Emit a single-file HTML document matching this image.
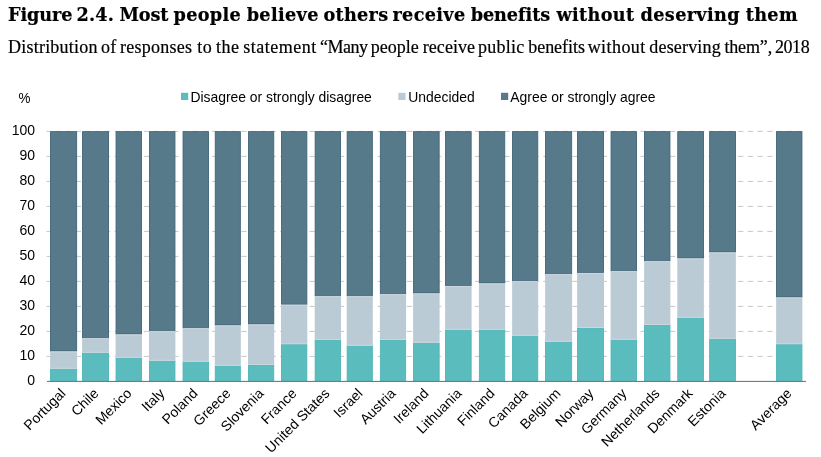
<!DOCTYPE html>
<html lang="en">
<head>
<meta charset="utf-8">
<title>Figure 2.4. Most people believe others receive benefits without deserving them</title>
<style>
html,body{margin:0;padding:0;background:#fff;}
body{width:821px;height:457px;overflow:hidden;position:relative;font-family:"Liberation Sans",Arial,sans-serif;color:#111;}
h1{position:absolute;left:0;top:2px;width:821px;height:26px;margin:0;font-family:"DejaVu Serif","Liberation Serif",serif;font-weight:700;font-size:17.65px;line-height:26px;white-space:nowrap;color:#000;-webkit-text-stroke:0.2px #000;}
p.sub{position:absolute;left:0;top:34.8px;width:821px;height:24px;margin:0;font-family:"Liberation Serif","DejaVu Serif",serif;font-weight:400;font-size:18px;line-height:24px;white-space:nowrap;color:#000;-webkit-text-stroke:0.2px #000;}
h1 span,p.sub span{position:absolute;top:0;white-space:pre;}
svg{position:absolute;left:0;top:0;}
svg text{font-family:"Liberation Sans",Arial,sans-serif;font-size:14px;fill:#000;}
svg .legend text{font-size:13.9px;}
</style>
</head>
<body>
<h1><span style="left:8.06px;letter-spacing:-0.119px">Figure</span> <span style="left:76.59px;letter-spacing:0.190px">2.4.</span> <span style="left:119.39px;letter-spacing:-0.075px">Most</span> <span style="left:173.50px;letter-spacing:0.350px">people</span> <span style="left:246.65px;letter-spacing:0.350px">believe</span> <span style="left:323.45px;letter-spacing:0.290px">others</span> <span style="left:392.45px;letter-spacing:0.350px">receive</span> <span style="left:470.63px;letter-spacing:-0.052px">benefits</span> <span style="left:556.46px;letter-spacing:0.350px">without</span> <span style="left:640.60px;letter-spacing:0.350px">deserving</span> <span style="left:745.70px;letter-spacing:0.350px">them</span></h1>
<p class="sub"><span style="left:8.10px;letter-spacing:0.212px">Distribution</span> <span style="left:101.09px;letter-spacing:0.153px">of</span> <span style="left:119.89px;letter-spacing:0.269px">responses</span> <span style="left:197.34px;letter-spacing:0.500px">to</span> <span style="left:216.10px;letter-spacing:0.500px">the</span> <span style="left:243.18px;letter-spacing:0.500px">statement</span> <span style="left:320.10px;letter-spacing:-0.500px">“Many</span> <span style="left:370.83px">people</span> <span style="left:422.77px;letter-spacing:0.057px">receive</span> <span style="left:478.06px;letter-spacing:0.217px">public</span> <span style="left:528.24px;letter-spacing:-0.043px">benefits</span> <span style="left:587.67px;letter-spacing:0.434px">without</span> <span style="left:649.33px;letter-spacing:0.177px">deserving</span> <span style="left:724.41px;letter-spacing:-0.144px">them”,</span> <span style="left:774.99px;letter-spacing:-0.432px">2018</span></p>
<svg width="821" height="457" viewBox="0 0 821 457">

<g class="legend" style="font-size:13.9px">
<rect x="181" y="92.8" width="7.2" height="7.2" fill="#5bbcbe"/><text x="190.4" y="101.5">Disagree or strongly disagree</text>
<rect x="398.3" y="92.8" width="7.2" height="7.2" fill="#bbcbd5"/><text x="408.3" y="101.5">Undecided</text>
<rect x="501" y="92.8" width="7.2" height="7.2" fill="#577a8a"/><text x="510.3" y="101.5">Agree or strongly agree</text>
</g>
<text transform="translate(18.4 103.0) scale(0.96 1.07)">%</text>
<g stroke="#b4b4b4" stroke-width="0.75" stroke-dasharray="5.3 4.44" fill="none">
<line x1="46.5" y1="356.40" x2="806" y2="356.40"/>
<line x1="46.5" y1="331.40" x2="806" y2="331.40"/>
<line x1="46.5" y1="306.40" x2="806" y2="306.40"/>
<line x1="46.5" y1="281.40" x2="806" y2="281.40"/>
<line x1="46.5" y1="256.40" x2="806" y2="256.40"/>
<line x1="46.5" y1="231.40" x2="806" y2="231.40"/>
<line x1="46.5" y1="206.40" x2="806" y2="206.40"/>
<line x1="46.5" y1="181.40" x2="806" y2="181.40"/>
<line x1="46.5" y1="156.40" x2="806" y2="156.40"/>
<line x1="46.5" y1="131.40" x2="806" y2="131.40"/>
</g>
<g text-anchor="end">
<text transform="translate(35 385.40) scale(1 1.06)">0</text>
<text transform="translate(35 360.40) scale(1 1.06)">10</text>
<text transform="translate(35 335.40) scale(1 1.06)">20</text>
<text transform="translate(35 310.40) scale(1 1.06)">30</text>
<text transform="translate(35 285.40) scale(1 1.06)">40</text>
<text transform="translate(35 260.40) scale(1 1.06)">50</text>
<text transform="translate(35 235.40) scale(1 1.06)">60</text>
<text transform="translate(35 210.40) scale(1 1.06)">70</text>
<text transform="translate(35 185.40) scale(1 1.06)">80</text>
<text transform="translate(35 160.40) scale(1 1.06)">90</text>
<text transform="translate(35 135.40) scale(1 1.06)">100</text>
</g>
<g class="bars">
<rect x="50.10" y="351.45" width="27.0" height="17.25" fill="#bbcbd5"/><rect x="50.55" y="131.65" width="26.10" height="219.35" fill="#577a8a" stroke="#3f6579" stroke-width="0.9"/><rect x="50.55" y="369.15" width="26.10" height="11.55" fill="#5bbcbe" stroke="#4fb5b7" stroke-width="0.9"/><line x1="50.10" y1="351.90" x2="77.10" y2="351.90" stroke="#cdd8e0" stroke-width="0.9"/><line x1="50.10" y1="368.25" x2="77.10" y2="368.25" stroke="#cdd8e0" stroke-width="0.9"/>
<rect x="82.10" y="338.20" width="26.9" height="14.50" fill="#bbcbd5"/><rect x="82.55" y="131.65" width="26.00" height="206.10" fill="#577a8a" stroke="#3f6579" stroke-width="0.9"/><rect x="82.55" y="353.15" width="26.00" height="27.55" fill="#5bbcbe" stroke="#4fb5b7" stroke-width="0.9"/><line x1="82.10" y1="338.65" x2="109.00" y2="338.65" stroke="#cdd8e0" stroke-width="0.9"/><line x1="82.10" y1="352.25" x2="109.00" y2="352.25" stroke="#cdd8e0" stroke-width="0.9"/>
<rect x="115.60" y="334.45" width="26.4" height="23.25" fill="#bbcbd5"/><rect x="116.05" y="131.65" width="25.50" height="202.35" fill="#577a8a" stroke="#3f6579" stroke-width="0.9"/><rect x="116.05" y="358.15" width="25.50" height="22.55" fill="#5bbcbe" stroke="#4fb5b7" stroke-width="0.9"/><line x1="115.60" y1="334.90" x2="142.00" y2="334.90" stroke="#cdd8e0" stroke-width="0.9"/><line x1="115.60" y1="357.25" x2="142.00" y2="357.25" stroke="#cdd8e0" stroke-width="0.9"/>
<rect x="149.00" y="331.20" width="26.4" height="29.50" fill="#bbcbd5"/><rect x="149.45" y="131.65" width="25.50" height="199.10" fill="#577a8a" stroke="#3f6579" stroke-width="0.9"/><rect x="149.45" y="361.15" width="25.50" height="19.55" fill="#5bbcbe" stroke="#4fb5b7" stroke-width="0.9"/><line x1="149.00" y1="331.65" x2="175.40" y2="331.65" stroke="#cdd8e0" stroke-width="0.9"/><line x1="149.00" y1="360.25" x2="175.40" y2="360.25" stroke="#cdd8e0" stroke-width="0.9"/>
<rect x="182.60" y="328.20" width="26.3" height="33.50" fill="#bbcbd5"/><rect x="183.05" y="131.65" width="25.40" height="196.10" fill="#577a8a" stroke="#3f6579" stroke-width="0.9"/><rect x="183.05" y="362.15" width="25.40" height="18.55" fill="#5bbcbe" stroke="#4fb5b7" stroke-width="0.9"/><line x1="182.60" y1="328.65" x2="208.90" y2="328.65" stroke="#cdd8e0" stroke-width="0.9"/><line x1="182.60" y1="361.25" x2="208.90" y2="361.25" stroke="#cdd8e0" stroke-width="0.9"/>
<rect x="214.80" y="325.45" width="26.0" height="40.25" fill="#bbcbd5"/><rect x="215.25" y="131.65" width="25.10" height="193.35" fill="#577a8a" stroke="#3f6579" stroke-width="0.9"/><rect x="215.25" y="366.15" width="25.10" height="14.55" fill="#5bbcbe" stroke="#4fb5b7" stroke-width="0.9"/><line x1="214.80" y1="325.90" x2="240.80" y2="325.90" stroke="#cdd8e0" stroke-width="0.9"/><line x1="214.80" y1="365.25" x2="240.80" y2="365.25" stroke="#cdd8e0" stroke-width="0.9"/>
<rect x="248.00" y="324.45" width="26.2" height="40.50" fill="#bbcbd5"/><rect x="248.45" y="131.65" width="25.30" height="192.35" fill="#577a8a" stroke="#3f6579" stroke-width="0.9"/><rect x="248.45" y="365.40" width="25.30" height="15.30" fill="#5bbcbe" stroke="#4fb5b7" stroke-width="0.9"/><line x1="248.00" y1="324.90" x2="274.20" y2="324.90" stroke="#cdd8e0" stroke-width="0.9"/><line x1="248.00" y1="364.50" x2="274.20" y2="364.50" stroke="#cdd8e0" stroke-width="0.9"/>
<rect x="281.00" y="304.70" width="26.3" height="39.50" fill="#bbcbd5"/><rect x="281.45" y="131.65" width="25.40" height="172.60" fill="#577a8a" stroke="#3f6579" stroke-width="0.9"/><rect x="281.45" y="344.65" width="25.40" height="36.05" fill="#5bbcbe" stroke="#4fb5b7" stroke-width="0.9"/><line x1="281.00" y1="305.15" x2="307.30" y2="305.15" stroke="#cdd8e0" stroke-width="0.9"/><line x1="281.00" y1="343.75" x2="307.30" y2="343.75" stroke="#cdd8e0" stroke-width="0.9"/>
<rect x="314.70" y="296.20" width="26.3" height="43.75" fill="#bbcbd5"/><rect x="315.15" y="131.65" width="25.40" height="164.10" fill="#577a8a" stroke="#3f6579" stroke-width="0.9"/><rect x="315.15" y="340.40" width="25.40" height="40.30" fill="#5bbcbe" stroke="#4fb5b7" stroke-width="0.9"/><line x1="314.70" y1="296.65" x2="341.00" y2="296.65" stroke="#cdd8e0" stroke-width="0.9"/><line x1="314.70" y1="339.50" x2="341.00" y2="339.50" stroke="#cdd8e0" stroke-width="0.9"/>
<rect x="346.70" y="296.20" width="26.1" height="49.50" fill="#bbcbd5"/><rect x="347.15" y="131.65" width="25.20" height="164.10" fill="#577a8a" stroke="#3f6579" stroke-width="0.9"/><rect x="347.15" y="346.15" width="25.20" height="34.55" fill="#5bbcbe" stroke="#4fb5b7" stroke-width="0.9"/><line x1="346.70" y1="296.65" x2="372.80" y2="296.65" stroke="#cdd8e0" stroke-width="0.9"/><line x1="346.70" y1="345.25" x2="372.80" y2="345.25" stroke="#cdd8e0" stroke-width="0.9"/>
<rect x="379.90" y="294.20" width="26.2" height="45.75" fill="#bbcbd5"/><rect x="380.35" y="131.65" width="25.30" height="162.10" fill="#577a8a" stroke="#3f6579" stroke-width="0.9"/><rect x="380.35" y="340.40" width="25.30" height="40.30" fill="#5bbcbe" stroke="#4fb5b7" stroke-width="0.9"/><line x1="379.90" y1="294.65" x2="406.10" y2="294.65" stroke="#cdd8e0" stroke-width="0.9"/><line x1="379.90" y1="339.50" x2="406.10" y2="339.50" stroke="#cdd8e0" stroke-width="0.9"/>
<rect x="413.10" y="293.45" width="26.5" height="49.25" fill="#bbcbd5"/><rect x="413.55" y="131.65" width="25.60" height="161.35" fill="#577a8a" stroke="#3f6579" stroke-width="0.9"/><rect x="413.55" y="343.15" width="25.60" height="37.55" fill="#5bbcbe" stroke="#4fb5b7" stroke-width="0.9"/><line x1="413.10" y1="293.90" x2="439.60" y2="293.90" stroke="#cdd8e0" stroke-width="0.9"/><line x1="413.10" y1="342.25" x2="439.60" y2="342.25" stroke="#cdd8e0" stroke-width="0.9"/>
<rect x="445.10" y="285.95" width="26.5" height="43.75" fill="#bbcbd5"/><rect x="445.55" y="131.65" width="25.60" height="153.85" fill="#577a8a" stroke="#3f6579" stroke-width="0.9"/><rect x="445.55" y="330.15" width="25.60" height="50.55" fill="#5bbcbe" stroke="#4fb5b7" stroke-width="0.9"/><line x1="445.10" y1="286.40" x2="471.60" y2="286.40" stroke="#cdd8e0" stroke-width="0.9"/><line x1="445.10" y1="329.25" x2="471.60" y2="329.25" stroke="#cdd8e0" stroke-width="0.9"/>
<rect x="478.90" y="283.45" width="26.3" height="46.50" fill="#bbcbd5"/><rect x="479.35" y="131.65" width="25.40" height="151.35" fill="#577a8a" stroke="#3f6579" stroke-width="0.9"/><rect x="479.35" y="330.40" width="25.40" height="50.30" fill="#5bbcbe" stroke="#4fb5b7" stroke-width="0.9"/><line x1="478.90" y1="283.90" x2="505.20" y2="283.90" stroke="#cdd8e0" stroke-width="0.9"/><line x1="478.90" y1="329.50" x2="505.20" y2="329.50" stroke="#cdd8e0" stroke-width="0.9"/>
<rect x="512.10" y="281.20" width="26.1" height="54.50" fill="#bbcbd5"/><rect x="512.55" y="131.65" width="25.20" height="149.10" fill="#577a8a" stroke="#3f6579" stroke-width="0.9"/><rect x="512.55" y="336.15" width="25.20" height="44.55" fill="#5bbcbe" stroke="#4fb5b7" stroke-width="0.9"/><line x1="512.10" y1="281.65" x2="538.20" y2="281.65" stroke="#cdd8e0" stroke-width="0.9"/><line x1="512.10" y1="335.25" x2="538.20" y2="335.25" stroke="#cdd8e0" stroke-width="0.9"/>
<rect x="545.10" y="274.20" width="27.0" height="67.50" fill="#bbcbd5"/><rect x="545.55" y="131.65" width="26.10" height="142.10" fill="#577a8a" stroke="#3f6579" stroke-width="0.9"/><rect x="545.55" y="342.15" width="26.10" height="38.55" fill="#5bbcbe" stroke="#4fb5b7" stroke-width="0.9"/><line x1="545.10" y1="274.65" x2="572.10" y2="274.65" stroke="#cdd8e0" stroke-width="0.9"/><line x1="545.10" y1="341.25" x2="572.10" y2="341.25" stroke="#cdd8e0" stroke-width="0.9"/>
<rect x="577.10" y="272.95" width="26.9" height="55.00" fill="#bbcbd5"/><rect x="577.55" y="131.65" width="26.00" height="140.85" fill="#577a8a" stroke="#3f6579" stroke-width="0.9"/><rect x="577.55" y="328.40" width="26.00" height="52.30" fill="#5bbcbe" stroke="#4fb5b7" stroke-width="0.9"/><line x1="577.10" y1="273.40" x2="604.00" y2="273.40" stroke="#cdd8e0" stroke-width="0.9"/><line x1="577.10" y1="327.50" x2="604.00" y2="327.50" stroke="#cdd8e0" stroke-width="0.9"/>
<rect x="610.60" y="271.20" width="26.4" height="68.50" fill="#bbcbd5"/><rect x="611.05" y="131.65" width="25.50" height="139.10" fill="#577a8a" stroke="#3f6579" stroke-width="0.9"/><rect x="611.05" y="340.15" width="25.50" height="40.55" fill="#5bbcbe" stroke="#4fb5b7" stroke-width="0.9"/><line x1="610.60" y1="271.65" x2="637.00" y2="271.65" stroke="#cdd8e0" stroke-width="0.9"/><line x1="610.60" y1="339.25" x2="637.00" y2="339.25" stroke="#cdd8e0" stroke-width="0.9"/>
<rect x="644.10" y="261.20" width="26.3" height="63.75" fill="#bbcbd5"/><rect x="644.55" y="131.65" width="25.40" height="129.10" fill="#577a8a" stroke="#3f6579" stroke-width="0.9"/><rect x="644.55" y="325.40" width="25.40" height="55.30" fill="#5bbcbe" stroke="#4fb5b7" stroke-width="0.9"/><line x1="644.10" y1="261.65" x2="670.40" y2="261.65" stroke="#cdd8e0" stroke-width="0.9"/><line x1="644.10" y1="324.50" x2="670.40" y2="324.50" stroke="#cdd8e0" stroke-width="0.9"/>
<rect x="677.30" y="258.45" width="26.6" height="59.25" fill="#bbcbd5"/><rect x="677.75" y="131.65" width="25.70" height="126.35" fill="#577a8a" stroke="#3f6579" stroke-width="0.9"/><rect x="677.75" y="318.15" width="25.70" height="62.55" fill="#5bbcbe" stroke="#4fb5b7" stroke-width="0.9"/><line x1="677.30" y1="258.90" x2="703.90" y2="258.90" stroke="#cdd8e0" stroke-width="0.9"/><line x1="677.30" y1="317.25" x2="703.90" y2="317.25" stroke="#cdd8e0" stroke-width="0.9"/>
<rect x="709.20" y="252.45" width="26.7" height="86.25" fill="#bbcbd5"/><rect x="709.65" y="131.65" width="25.80" height="120.35" fill="#577a8a" stroke="#3f6579" stroke-width="0.9"/><rect x="709.65" y="339.15" width="25.80" height="41.55" fill="#5bbcbe" stroke="#4fb5b7" stroke-width="0.9"/><line x1="709.20" y1="252.90" x2="735.90" y2="252.90" stroke="#cdd8e0" stroke-width="0.9"/><line x1="709.20" y1="338.25" x2="735.90" y2="338.25" stroke="#cdd8e0" stroke-width="0.9"/>
<rect x="776.10" y="297.45" width="26.3" height="46.75" fill="#bbcbd5"/><rect x="776.55" y="131.65" width="25.40" height="165.35" fill="#577a8a" stroke="#3f6579" stroke-width="0.9"/><rect x="776.55" y="344.65" width="25.40" height="36.05" fill="#5bbcbe" stroke="#4fb5b7" stroke-width="0.9"/><line x1="776.10" y1="297.90" x2="802.40" y2="297.90" stroke="#cdd8e0" stroke-width="0.9"/><line x1="776.10" y1="343.75" x2="802.40" y2="343.75" stroke="#cdd8e0" stroke-width="0.9"/>
</g>
<line x1="47.0" y1="381.4" x2="806" y2="381.4" stroke="#586e90" stroke-width="1"/>
<g text-anchor="end">
<text transform="translate(66.50 394.20) rotate(-45)">Portugal</text>
<text transform="translate(99.50 394.20) rotate(-45)">Chile</text>
<text transform="translate(132.50 394.20) rotate(-45)">Mexico</text>
<text transform="translate(165.50 394.20) rotate(-45)">Italy</text>
<text transform="translate(198.50 394.20) rotate(-45)">Poland</text>
<text transform="translate(231.50 394.20) rotate(-45)">Greece</text>
<text transform="translate(264.50 394.20) rotate(-45)">Slovenia</text>
<text transform="translate(297.50 394.20) rotate(-45)">France</text>
<text transform="translate(330.50 394.20) rotate(-45)">United States</text>
<text transform="translate(363.50 394.20) rotate(-45)">Israel</text>
<text transform="translate(396.50 394.20) rotate(-45)">Austria</text>
<text transform="translate(429.50 394.20) rotate(-45)">Ireland</text>
<text transform="translate(462.50 394.20) rotate(-45)">Lithuania</text>
<text transform="translate(495.50 394.20) rotate(-45)">Finland</text>
<text transform="translate(528.50 394.20) rotate(-45)">Canada</text>
<text transform="translate(561.50 394.20) rotate(-45)">Belgium</text>
<text transform="translate(594.50 394.20) rotate(-45)">Norway</text>
<text transform="translate(627.50 394.20) rotate(-45)">Germany</text>
<text transform="translate(660.50 394.20) rotate(-45)">Netherlands</text>
<text transform="translate(693.50 394.20) rotate(-45)">Denmark</text>
<text transform="translate(726.50 394.20) rotate(-45)">Estonia</text>
<text transform="translate(792.50 394.20) rotate(-45)">Average</text>
</g>
</svg>
</body>
</html>
